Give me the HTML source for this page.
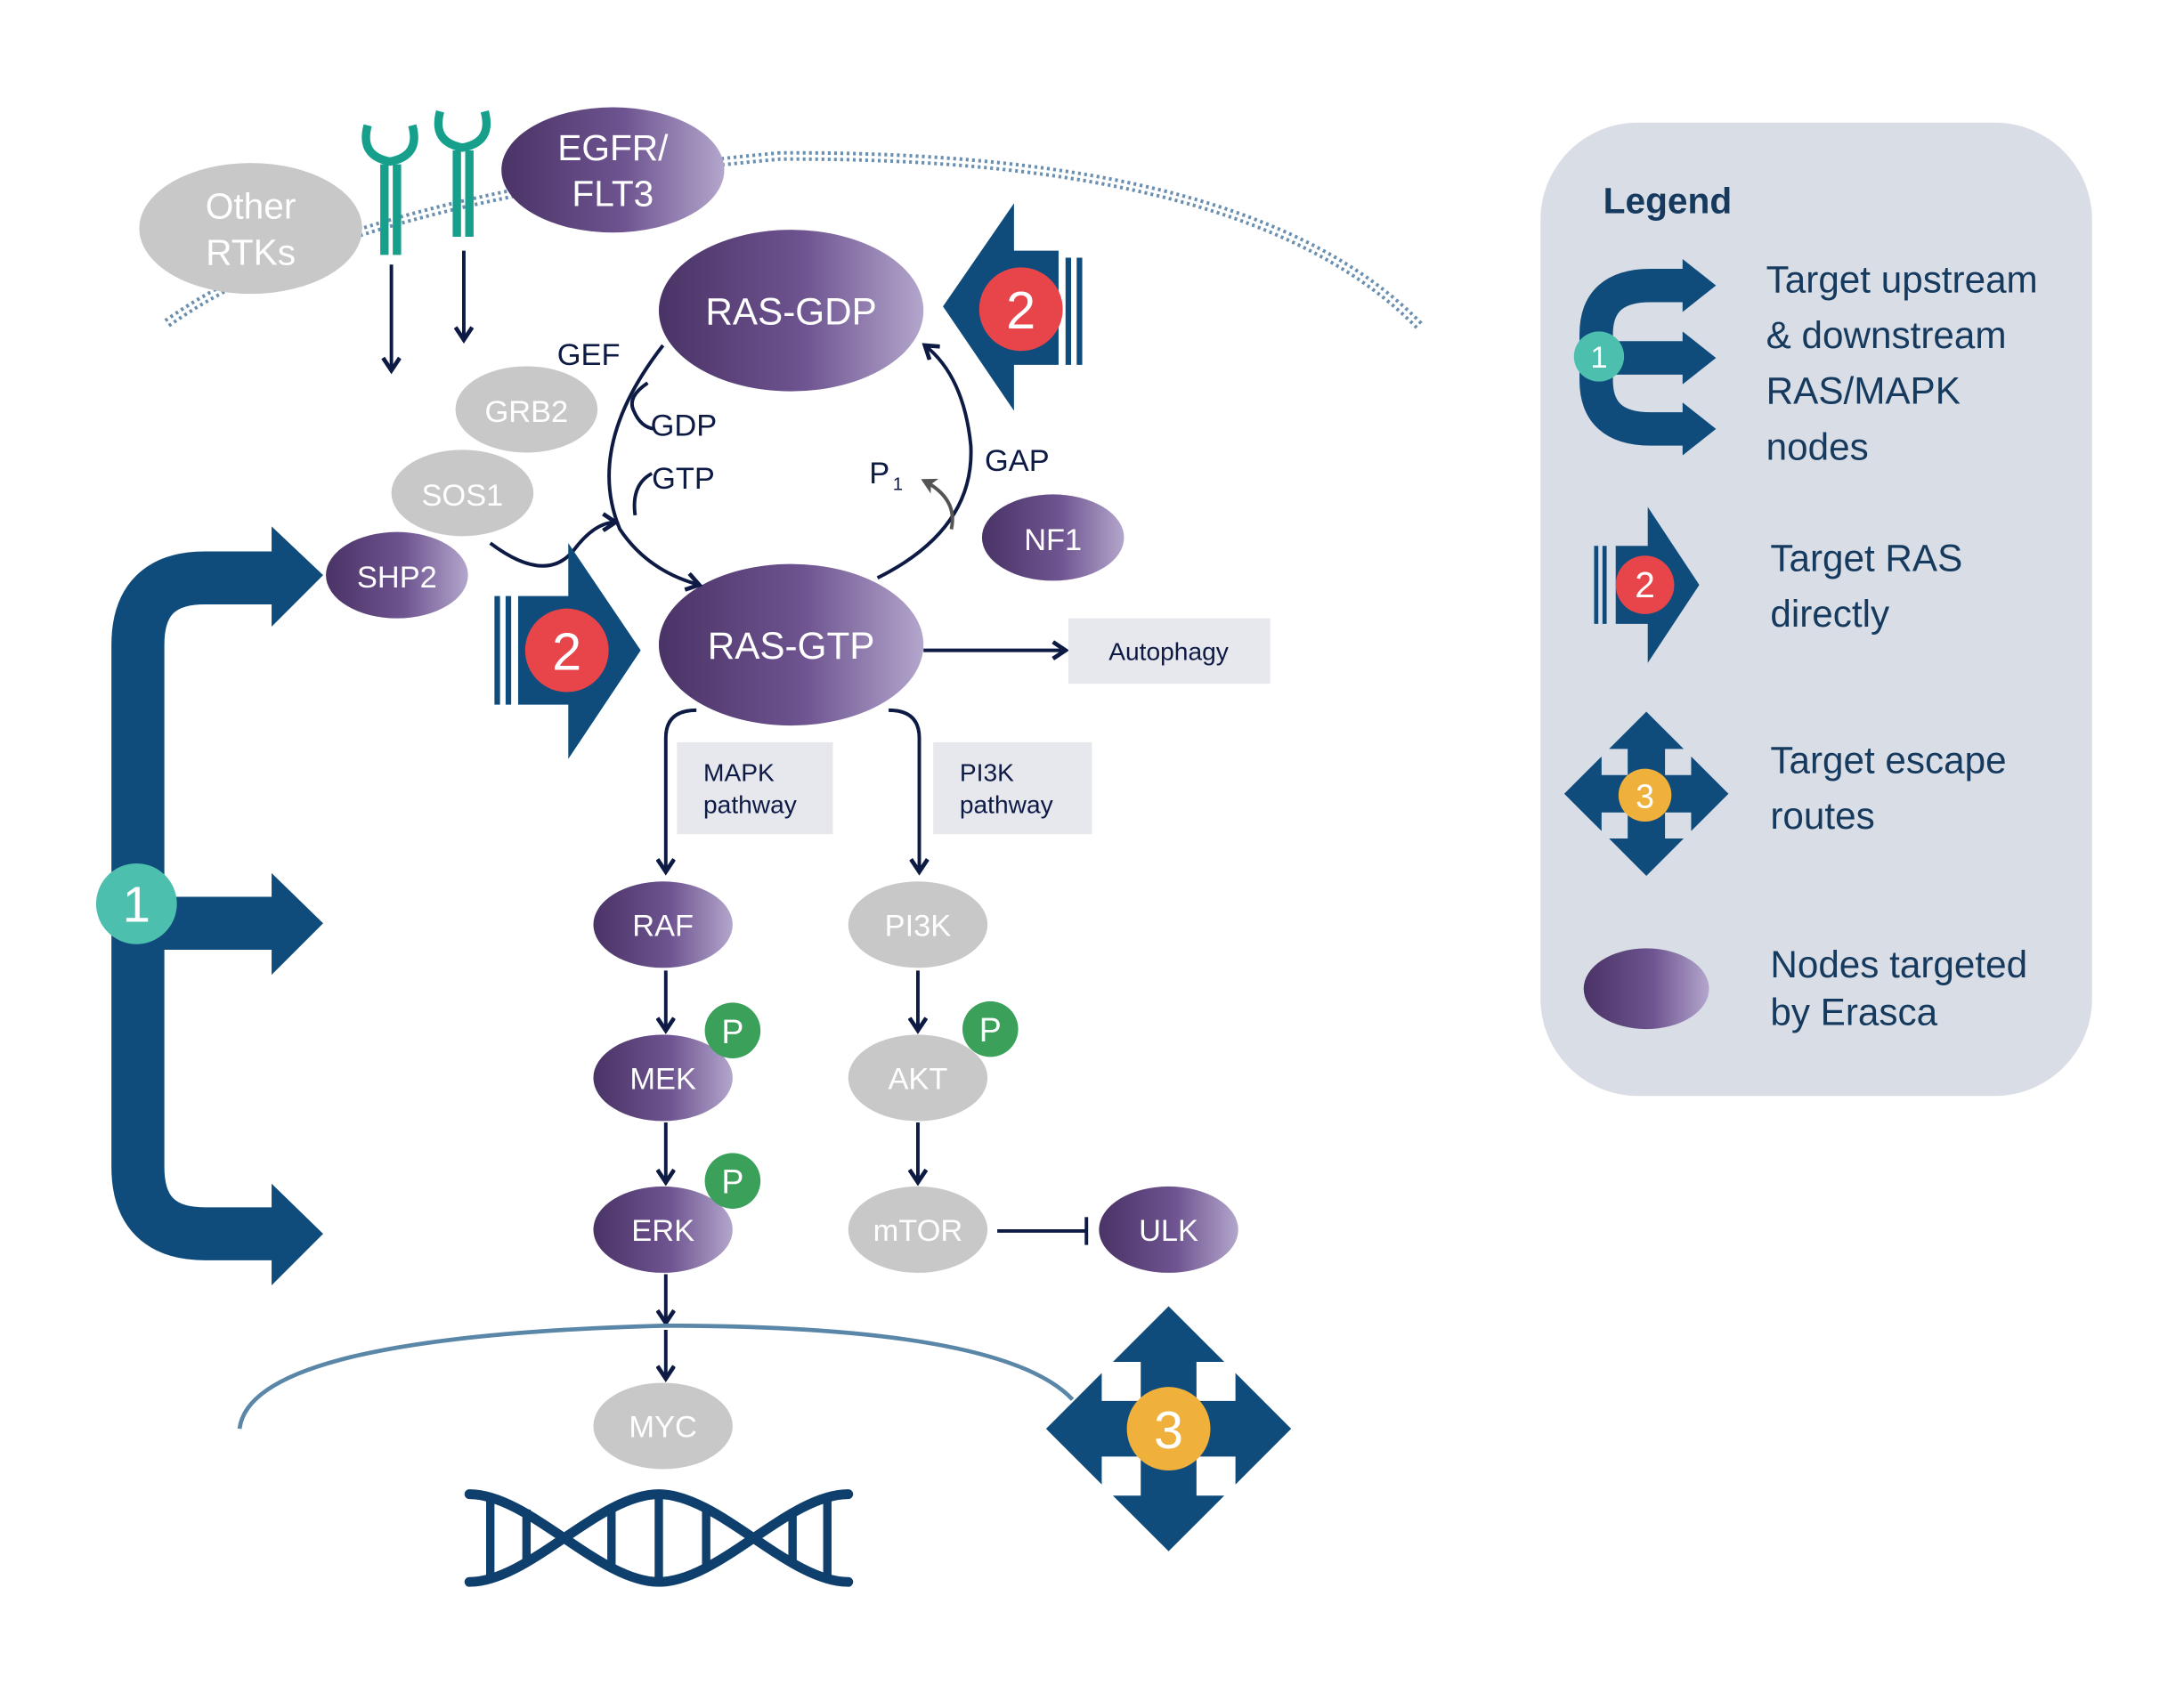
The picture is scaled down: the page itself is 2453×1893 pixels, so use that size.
<!DOCTYPE html>
<html><head><meta charset="utf-8"><style>html,body{margin:0;padding:0;background:#fff}svg{display:block}</style></head><body>
<svg width="2453" height="1893" viewBox="0 0 1568 1210" xmlns="http://www.w3.org/2000/svg" font-family="Liberation Sans, sans-serif">
<defs>
<linearGradient id="pg" x1="0" x2="1" y1="0" y2="0"><stop offset="0" stop-color="#4a3366"/><stop offset="0.55" stop-color="#6e5490"/><stop offset="1" stop-color="#b3a6cc"/></linearGradient>
<marker id="ah" markerWidth="14" markerHeight="14" refX="10" refY="7" orient="auto" markerUnits="userSpaceOnUse"><path d="M1,1 L10,7 L1,13" fill="none" stroke="#0d1a44" stroke-width="3"/></marker>
<marker id="ahg" markerWidth="12" markerHeight="12" refX="9" refY="6" orient="auto" markerUnits="userSpaceOnUse"><path d="M0,0 L11,6 L0,12 L3,6Z" fill="#555"/></marker>
<g id="esc"><path d="M0,-88 L40,-48 L20,-48 L20,-20 L48,-20 L48,-40 L88,0 L48,40 L48,20 L20,20 L20,48 L40,48 L0,88 L-40,48 L-20,48 L-20,20 L-48,20 L-48,40 L-88,0 L-48,-40 L-48,-20 L-20,-20 L-20,-48 L-40,-48Z" fill="#0f4c7c"/></g>
</defs>
<path d="M120,232 Q250,140 560,112 Q900,110 1020,235" fill="none" stroke="#6a8fb0" stroke-width="7" stroke-dasharray="2,2.5"/>
<path d="M120,232 Q250,140 560,112 Q900,110 1020,235" fill="none" stroke="#fff" stroke-width="2"/>
<ellipse cx="180" cy="164" rx="80" ry="47" fill="#c8c8c8"/>
<text x="180" y="157" font-size="26" fill="#fff" text-anchor="middle">Other</text>
<text x="180" y="190" font-size="26" fill="#fff" text-anchor="middle">RTKs</text>
<g fill="none" stroke="#16a08c" stroke-width="6">
<path d="M264,90 q-6,22 16,26 q22,-4 16,-26"/><path d="M276,118 V183 M285,118 V183"/>
<path d="M316,80 q-6,22 16,26 q22,-4 16,-26"/><path d="M328,108 V170 M337,108 V170"/>
</g>
<ellipse cx="440" cy="122" rx="80" ry="45" fill="url(#pg)"/>
<text x="440" y="115" font-size="26" fill="#fff" text-anchor="middle">EGFR/</text>
<text x="440" y="148" font-size="26" fill="#fff" text-anchor="middle">FLT3</text>
<g stroke="#0d1a44" stroke-width="2.5" fill="none" marker-end="url(#ah)">
<line x1="281" y1="190" x2="281" y2="266"/><line x1="333" y1="180" x2="333" y2="244"/>
</g>
<ellipse cx="568" cy="223" rx="95" ry="58" fill="url(#pg)"/>
<text x="568" y="233" font-size="27" fill="#fff" text-anchor="middle">RAS-GDP</text>
<ellipse cx="568" cy="463" rx="95" ry="58" fill="url(#pg)"/>
<text x="568" y="473" font-size="27" fill="#fff" text-anchor="middle">RAS-GTP</text>
<g stroke="#0d1a44" stroke-width="2.5" fill="none">
<path d="M476,248 Q420,320 445,380 Q465,410 502,420" marker-end="url(#ah)"/>
<path d="M630,415 Q700,380 697,320 Q692,270 664,248" marker-end="url(#ah)"/>
<path d="M465,275 q-15,10 -10,20 q5,12 15,13"/>
<path d="M468,340 q-15,8 -12,30"/>
<path d="M352,390 q40,30 60,5 q15,-20 30,-20" marker-end="url(#ah)"/>
<line x1="663" y1="467" x2="765" y2="467" marker-end="url(#ah)"/>
<path d="M500,510 q-22,0 -22,20 V626" marker-end="url(#ah)"/>
<path d="M638,510 q22,0 22,20 V626" marker-end="url(#ah)"/>
<line x1="478" y1="697" x2="478" y2="740" marker-end="url(#ah)"/>
<line x1="478" y1="806" x2="478" y2="849" marker-end="url(#ah)"/>
<line x1="478" y1="915" x2="478" y2="950" marker-end="url(#ah)"/>
<line x1="478" y1="955" x2="478" y2="990" marker-end="url(#ah)"/>
<line x1="659" y1="697" x2="659" y2="740" marker-end="url(#ah)"/>
<line x1="659" y1="806" x2="659" y2="849" marker-end="url(#ah)"/>
<line x1="716" y1="884" x2="780" y2="884"/><line x1="780" y1="874" x2="780" y2="894"/>
</g>
<path d="M683,380 q5,-22 -20,-35" fill="none" stroke="#555" stroke-width="2.5" marker-end="url(#ahg)"/>
<g font-size="22" fill="#0d1a44">
<text x="400" y="262">GEF</text><text x="467" y="313">GDP</text><text x="468" y="351">GTP</text>
<text x="707" y="338">GAP</text><text x="624" y="347">P</text><text x="641" y="352" font-size="13">1</text>
</g>
<ellipse cx="378" cy="294" rx="51" ry="31" fill="#c8c8c8"/><text x="378" y="303" font-size="22" fill="#fff" text-anchor="middle">GRB2</text>
<ellipse cx="332" cy="354" rx="51" ry="31" fill="#c8c8c8"/><text x="332" y="363" font-size="22" fill="#fff" text-anchor="middle">SOS1</text>
<ellipse cx="285" cy="413" rx="51" ry="31" fill="url(#pg)"/><text x="285" y="422" font-size="22" fill="#fff" text-anchor="middle">SHP2</text>
<ellipse cx="756" cy="386" rx="51" ry="31" fill="url(#pg)"/><text x="756" y="395" font-size="22" fill="#fff" text-anchor="middle">NF1</text>
<path d="M677,220 L728,146 L728,180 L760,180 L760,262 L728,262 L728,295Z" fill="#0f4c7c"/>
<g stroke="#0f4c7c" stroke-width="4"><line x1="767" y1="185" x2="767" y2="262"/><line x1="775" y1="185" x2="775" y2="262"/></g>
<circle cx="733" cy="222" r="30" fill="#e8454a"/><text x="733" y="236" font-size="38" fill="#fff" text-anchor="middle">2</text>
<path d="M460,467 L408,390 L408,428 L372,428 L372,506 L408,506 L408,545Z" fill="#0f4c7c"/>
<g stroke="#0f4c7c" stroke-width="4"><line x1="357" y1="428" x2="357" y2="506"/><line x1="365" y1="428" x2="365" y2="506"/></g>
<circle cx="407" cy="467" r="30" fill="#e8454a"/><text x="407" y="481" font-size="38" fill="#fff" text-anchor="middle">2</text>
<rect x="767" y="444" width="145" height="47" fill="#e6e8ee"/><text x="839" y="474" font-size="18" fill="#0d1a44" text-anchor="middle">Autophagy</text>
<rect x="486" y="533" width="112" height="66" fill="#e6e8ee"/><text x="505" y="561" font-size="18" fill="#0d1a44">MAPK</text><text x="505" y="584" font-size="18" fill="#0d1a44">pathway</text>
<rect x="670" y="533" width="114" height="66" fill="#e6e8ee"/><text x="689" y="561" font-size="18" fill="#0d1a44">PI3K</text><text x="689" y="584" font-size="18" fill="#0d1a44">pathway</text>
<g font-size="22" fill="#fff" text-anchor="middle">
<ellipse cx="476" cy="664" rx="50" ry="31" fill="url(#pg)"/><text x="476" y="672">RAF</text>
<ellipse cx="476" cy="774" rx="50" ry="31" fill="url(#pg)"/><text x="476" y="782">MEK</text>
<ellipse cx="476" cy="883" rx="50" ry="31" fill="url(#pg)"/><text x="476" y="891">ERK</text>
<ellipse cx="659" cy="664" rx="50" ry="31" fill="#c8c8c8"/><text x="659" y="672">PI3K</text>
<ellipse cx="659" cy="774" rx="50" ry="31" fill="#c8c8c8"/><text x="659" y="782">AKT</text>
<ellipse cx="659" cy="883" rx="50" ry="31" fill="#c8c8c8"/><text x="659" y="891">mTOR</text>
<ellipse cx="839" cy="883" rx="50" ry="31" fill="url(#pg)"/><text x="839" y="891">ULK</text>
<circle cx="526" cy="740" r="20" fill="#3aa05a"/><text x="526" y="749" font-size="24">P</text>
<circle cx="526" cy="848" r="20" fill="#3aa05a"/><text x="526" y="857" font-size="24">P</text>
<circle cx="711" cy="739" r="20" fill="#3aa05a"/><text x="711" y="748" font-size="24">P</text>
</g>
<path d="M172,1026 Q180,960 476,952 Q720,952 770,1005" fill="none" stroke="#5a86a8" stroke-width="3"/>
<ellipse cx="476" cy="1024" rx="50" ry="31" fill="#c8c8c8"/><text x="476" y="1032" font-size="22" fill="#fff" text-anchor="middle">MYC</text>
<g fill="none" stroke="#0f3f6c" stroke-width="7" stroke-linecap="round">
<path d="M337,1073 C380,1073 430,1136 473,1136 C516,1136 566,1073 609,1073"/>
<path d="M337,1136 C380,1136 430,1073 473,1073 C516,1073 566,1136 609,1136"/>
</g>
<g stroke="#0f3f6c" stroke-width="6">
<path d="M352,1073 V1136 M378,1084 V1124 M439,1082 V1126 M473,1073 V1136 M507,1082 V1126 M569,1084 V1124 M594,1073 V1136"/>
</g>
<use href="#esc" x="839" y="1026"/>
<circle cx="839" cy="1026" r="30" fill="#f0b03c"/><text x="839" y="1040" font-size="38" fill="#fff" text-anchor="middle">3</text>
<path d="M99,663 V463 Q99,415 147,415 H200" fill="none" stroke="#0f4c7c" stroke-width="38"/>
<path d="M99,660 V838 Q99,886 147,886 H200" fill="none" stroke="#0f4c7c" stroke-width="38"/>
<path d="M99,663 H200" stroke="#0f4c7c" stroke-width="38"/>
<path d="M195,378 L232,413 L195,450Z M195,627 L232,663 L195,700Z M195,850 L232,886 L195,923Z" fill="#0f4c7c"/>
<circle cx="98" cy="649" r="29" fill="#4cbfae"/><text x="98" y="662" font-size="36" fill="#fff" text-anchor="middle">1</text>
<rect x="1106" y="88" width="396" height="699" rx="70" fill="#d8dde6"/>
<text x="1151" y="153" font-size="26" font-weight="bold" fill="#163a5e">Legend</text>
<g font-size="27" fill="#163a5e">
<text x="1268" y="210">Target upstream</text><text x="1268" y="250">&amp; downstream</text><text x="1268" y="290">RAS/MAPK</text><text x="1268" y="330">nodes</text>
<text x="1271" y="410">Target RAS</text><text x="1271" y="450">directly</text>
<text x="1271" y="555">Target escape</text><text x="1271" y="595">routes</text>
<text x="1271" y="702">Nodes targeted</text><text x="1271" y="736">by Erasca</text>
</g>
<path d="M1210,205 H1185 Q1146,205 1146,240 V273 Q1146,308 1185,308 H1210 M1150,257 H1210" fill="none" stroke="#0f4c7c" stroke-width="24"/>
<path d="M1208,186 L1232,205 L1208,224Z M1208,238 L1232,257 L1208,276Z M1208,289 L1232,308 L1208,327Z" fill="#0f4c7c"/>
<circle cx="1148" cy="256" r="18" fill="#4cbfae"/><text x="1148" y="264" font-size="22" fill="#fff" text-anchor="middle">1</text>
<path d="M1220,420 L1183,364 L1183,392 L1160,392 L1160,448 L1183,448 L1183,476Z" fill="#0f4c7c"/>
<g stroke="#0f4c7c" stroke-width="3"><line x1="1146" y1="392" x2="1146" y2="448"/><line x1="1152" y1="392" x2="1152" y2="448"/></g>
<circle cx="1181" cy="420" r="21" fill="#e8454a"/><text x="1181" y="429" font-size="26" fill="#fff" text-anchor="middle">2</text>
<use href="#esc" transform="translate(1182,570) scale(0.67)"/>
<circle cx="1181" cy="571" r="19" fill="#f0b03c"/><text x="1181" y="580" font-size="24" fill="#fff" text-anchor="middle">3</text>
<ellipse cx="1182" cy="710" rx="45" ry="29" fill="url(#pg)"/>
</svg>
</body></html>
